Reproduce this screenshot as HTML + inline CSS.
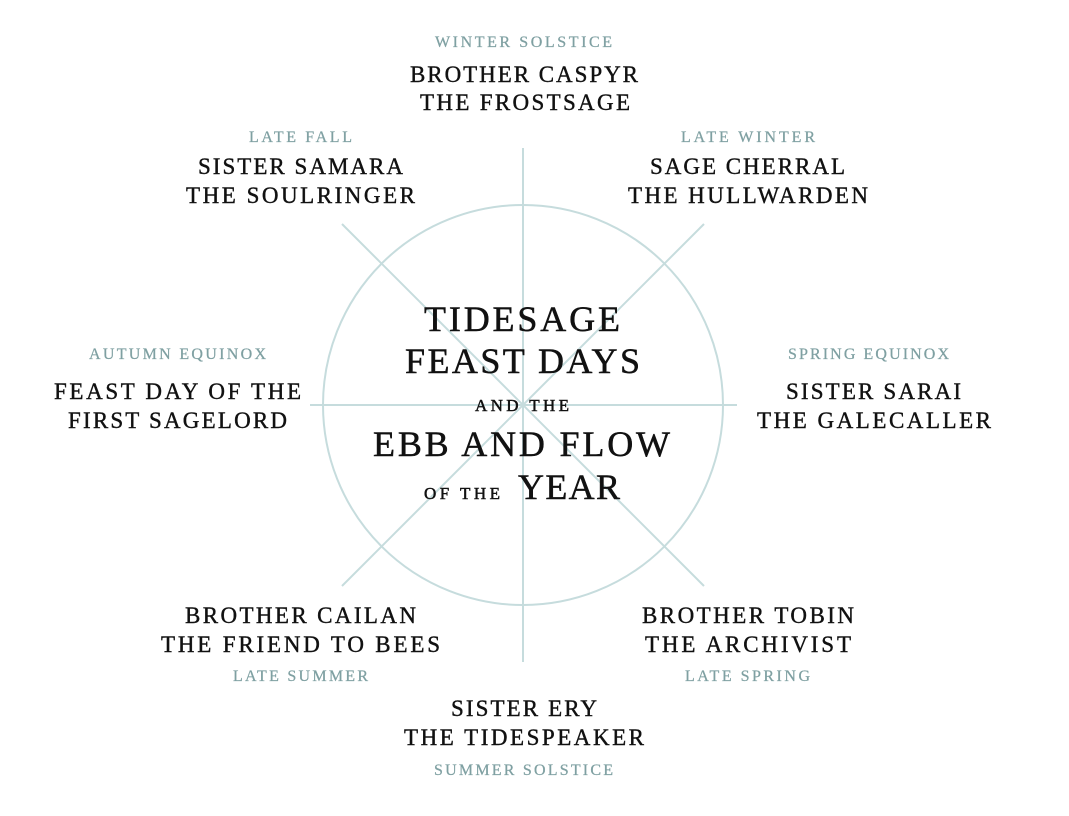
<!DOCTYPE html>
<html><head><meta charset="utf-8"><style>
html,body{margin:0;padding:0;background:#fff;}
svg{display:block;}
text{font-family:"Liberation Serif",serif;}
.l{fill:#7fa0a2;font-size:16px;stroke:#7fa0a2;stroke-width:0.25px;}
.n{fill:#111;font-size:23px;stroke:#111;stroke-width:0.4px;}
.c{fill:#111;stroke:#111;stroke-width:0.5px;}
</style></head><body>
<svg width="1069" height="816" viewBox="0 0 1069 816" xmlns="http://www.w3.org/2000/svg">
<g stroke="#c6dcdd" stroke-width="2" fill="none">
<circle cx="523" cy="405" r="200"/>
<line x1="523" y1="148" x2="523" y2="662"/>
<line x1="310" y1="405" x2="737" y2="405"/>
<line x1="342" y1="224" x2="704" y2="586"/>
<line x1="704" y1="224" x2="342" y2="586"/>
</g>
<g>
<text class="l" x="435" y="47" textLength="177" lengthAdjust="spacing">WINTER SOLSTICE</text>
<text class="n" x="410" y="82" textLength="228" lengthAdjust="spacing">BROTHER CASPYR</text>
<text class="n" x="420" y="110" textLength="210" lengthAdjust="spacing">THE FROSTSAGE</text>

<text class="l" x="249" y="142" textLength="103" lengthAdjust="spacing">LATE FALL</text>
<text class="n" x="198" y="174" textLength="205" lengthAdjust="spacing">SISTER SAMARA</text>
<text class="n" x="186" y="203" textLength="229" lengthAdjust="spacing">THE SOULRINGER</text>

<text class="l" x="681" y="142" textLength="134" lengthAdjust="spacing">LATE WINTER</text>
<text class="n" x="650" y="174" textLength="195" lengthAdjust="spacing">SAGE CHERRAL</text>
<text class="n" x="628" y="203" textLength="240" lengthAdjust="spacing">THE HULLWARDEN</text>

<text class="l" x="89" y="359" textLength="177" lengthAdjust="spacing">AUTUMN EQUINOX</text>
<text class="n" x="54" y="399" textLength="247" lengthAdjust="spacing">FEAST DAY OF THE</text>
<text class="n" x="68" y="428" textLength="219" lengthAdjust="spacing">FIRST SAGELORD</text>

<text class="l" x="788" y="359" textLength="161" lengthAdjust="spacing">SPRING EQUINOX</text>
<text class="n" x="786" y="399" textLength="175" lengthAdjust="spacing">SISTER SARAI</text>
<text class="n" x="757" y="428" textLength="234" lengthAdjust="spacing">THE GALECALLER</text>

<text class="n" x="185" y="623" textLength="231" lengthAdjust="spacing">BROTHER CAILAN</text>
<text class="n" x="161" y="652" textLength="279" lengthAdjust="spacing">THE FRIEND TO BEES</text>
<text class="l" x="233" y="681" textLength="135" lengthAdjust="spacing">LATE SUMMER</text>

<text class="n" x="642" y="623" textLength="212" lengthAdjust="spacing">BROTHER TOBIN</text>
<text class="n" x="645" y="652" textLength="206" lengthAdjust="spacing">THE ARCHIVIST</text>
<text class="l" x="685" y="681" textLength="125" lengthAdjust="spacing">LATE SPRING</text>

<text class="n" x="451" y="716" textLength="146" lengthAdjust="spacing">SISTER ERY</text>
<text class="n" x="404" y="745" textLength="240" lengthAdjust="spacing">THE TIDESPEAKER</text>
<text class="l" x="434" y="775" textLength="179" lengthAdjust="spacing">SUMMER SOLSTICE</text>

<text class="c" x="424" y="331" font-size="36" textLength="196" lengthAdjust="spacing">TIDESAGE</text>
<text class="c" x="405" y="373" font-size="36" textLength="235" lengthAdjust="spacing">FEAST DAYS</text>
<text class="c" x="475" y="411" font-size="17" textLength="94" lengthAdjust="spacing">AND THE</text>
<text class="c" x="373" y="456" font-size="36" textLength="297" lengthAdjust="spacing">EBB AND FLOW</text>
<text class="c" x="424" y="499" font-size="17" textLength="76" lengthAdjust="spacing">OF THE</text>
<text class="c" x="518" y="499" font-size="36" textLength="102" lengthAdjust="spacing">YEAR</text>
</g>
</svg>
</body></html>
